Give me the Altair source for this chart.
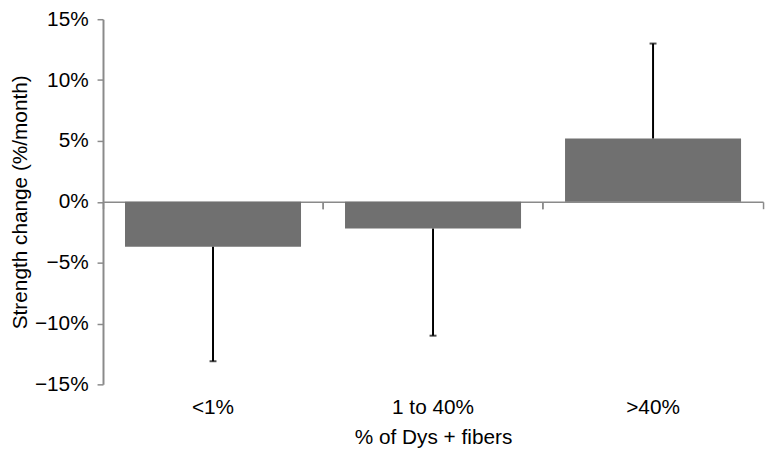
import altair as alt
import pandas as pd

categories = ["<1%", "1 to 40%", ">40%"]
values = [-0.037, -0.022, 0.052]
err_ends = [-0.131, -0.110, 0.130]

df = pd.DataFrame({"cat": categories, "value": values, "err": err_ends})

FONT = "Liberation Sans"
AXIS_GRAY = "#8a8a8a"
H = 369
W = 667
TICK = 7

x_scale = alt.Scale(paddingInner=0, paddingOuter=0)

x_main = alt.X(
    "cat:N",
    sort=categories,
    scale=x_scale,
    axis=alt.Axis(
        title="% of Dys + fibers",
        orient="bottom",
        labelAngle=0,
        offset=-H / 2,
        bandPosition=0,
        labelPadding=190,
        tickSize=TICK,
        tickColor=AXIS_GRAY,
        tickWidth=1.5,
        domainColor=AXIS_GRAY,
        domainWidth=1.5,
        labelFontSize=21,
        titleFontSize=21,
        titleFontWeight="normal",
        titleY=238,
        titleBaseline="middle",
        labelColor="black",
        titleColor="black",
    ),
)

x_end_ticks = alt.X(
    "cat:N",
    sort=categories,
    scale=x_scale,
    axis=alt.Axis(
        title=None,
        orient="bottom",
        labels=False,
        domain=False,
        offset=-H / 2,
        bandPosition=1,
        tickSize=TICK,
        tickColor=AXIS_GRAY,
        tickWidth=1.5,
    ),
)

y_scale = alt.Scale(domain=[-0.15, 0.15], nice=False, zero=False)
y_axis = alt.Axis(
    title="Strength change (%/month)",
    format=".0%",
    values=[-0.15, -0.10, -0.05, 0, 0.05, 0.10, 0.15],
    grid=False,
    tickSize=6,
    tickColor=AXIS_GRAY,
    tickWidth=1.5,
    domainColor=AXIS_GRAY,
    domainWidth=2,
    labelFontSize=21,
    titleFontSize=21,
    titleFontWeight="normal",
    labelPadding=9,
    titlePadding=4,
    labelColor="black",
    titleColor="black",
)

base = alt.Chart(df)

bars = base.mark_bar(color="#707070", width={"band": 0.8}).encode(
    x=x_main,
    y=alt.Y("value:Q", scale=y_scale, axis=y_axis),
    y2=alt.datum(0),
)

rules = base.mark_rule(color="black", strokeWidth=2).encode(
    x=alt.X("cat:N", sort=categories, axis=None),
    y=alt.Y("value:Q"),
    y2="err:Q",
)

caps = base.mark_tick(color="black", size=7, thickness=2).encode(
    x=x_end_ticks,
    y=alt.Y("err:Q"),
)

chart = (
    alt.layer(bars, rules, caps)
    .resolve_axis(x="independent")
    .properties(
        width=W,
        height=H,
        autosize=alt.AutoSizeParams(type="none"),
        padding={"left": 96, "top": 9, "right": 5, "bottom": 64},
    )
    .configure(font=FONT)
    .configure_view(stroke=None)
)

chart.save("out.html", embed_options={"renderer": "svg", "actions": False})
